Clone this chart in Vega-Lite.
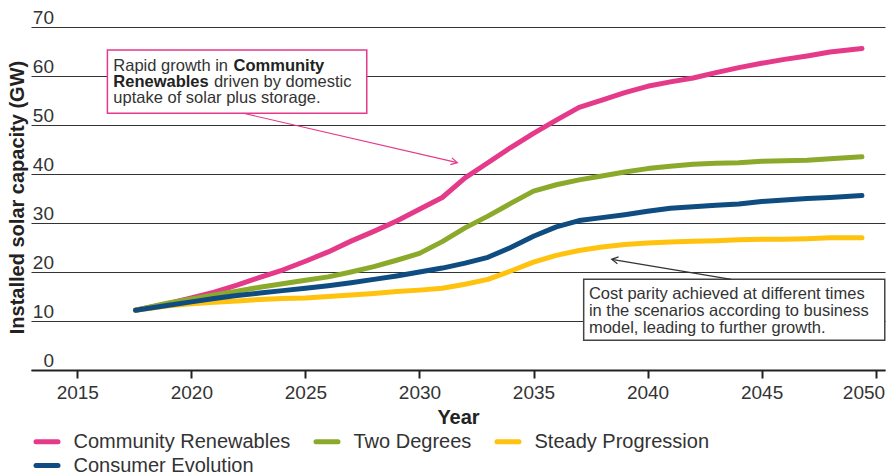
{
  "$schema": "https://vega.github.io/schema/vega-lite/v6.json",
  "width": 854,
  "height": 343,
  "autosize": {"type": "none"},
  "padding": {"left": 31, "top": 27, "right": 8, "bottom": 106},
  "config": {"font": "Liberation Sans", "view": {"stroke": null}},
  "datasets": {
    "series": [
      {"year": 2017.55, "scenario": "Community Renewables", "gw": 12.2},
      {"year": 2019, "scenario": "Community Renewables", "gw": 13.6},
      {"year": 2020, "scenario": "Community Renewables", "gw": 14.7},
      {"year": 2021, "scenario": "Community Renewables", "gw": 15.9},
      {"year": 2022, "scenario": "Community Renewables", "gw": 17.3},
      {"year": 2023, "scenario": "Community Renewables", "gw": 18.9},
      {"year": 2024, "scenario": "Community Renewables", "gw": 20.4},
      {"year": 2025, "scenario": "Community Renewables", "gw": 22.2},
      {"year": 2026, "scenario": "Community Renewables", "gw": 24.1},
      {"year": 2027, "scenario": "Community Renewables", "gw": 26.3},
      {"year": 2028, "scenario": "Community Renewables", "gw": 28.3},
      {"year": 2029, "scenario": "Community Renewables", "gw": 30.4},
      {"year": 2030, "scenario": "Community Renewables", "gw": 32.8},
      {"year": 2031, "scenario": "Community Renewables", "gw": 35.2},
      {"year": 2032, "scenario": "Community Renewables", "gw": 39.2},
      {"year": 2033, "scenario": "Community Renewables", "gw": 42.3},
      {"year": 2034, "scenario": "Community Renewables", "gw": 45.4},
      {"year": 2035, "scenario": "Community Renewables", "gw": 48.3},
      {"year": 2036, "scenario": "Community Renewables", "gw": 51.0},
      {"year": 2037, "scenario": "Community Renewables", "gw": 53.6},
      {"year": 2038, "scenario": "Community Renewables", "gw": 55.1},
      {"year": 2039, "scenario": "Community Renewables", "gw": 56.6},
      {"year": 2040, "scenario": "Community Renewables", "gw": 57.9},
      {"year": 2041, "scenario": "Community Renewables", "gw": 58.8},
      {"year": 2042, "scenario": "Community Renewables", "gw": 59.6},
      {"year": 2043, "scenario": "Community Renewables", "gw": 60.7},
      {"year": 2044, "scenario": "Community Renewables", "gw": 61.7},
      {"year": 2045, "scenario": "Community Renewables", "gw": 62.6},
      {"year": 2046, "scenario": "Community Renewables", "gw": 63.4},
      {"year": 2047, "scenario": "Community Renewables", "gw": 64.1},
      {"year": 2048, "scenario": "Community Renewables", "gw": 64.9},
      {"year": 2049.4, "scenario": "Community Renewables", "gw": 65.6},

      {"year": 2017.55, "scenario": "Two Degrees", "gw": 12.2},
      {"year": 2019, "scenario": "Two Degrees", "gw": 13.7},
      {"year": 2020, "scenario": "Two Degrees", "gw": 14.5},
      {"year": 2021, "scenario": "Two Degrees", "gw": 15.3},
      {"year": 2022, "scenario": "Two Degrees", "gw": 16.1},
      {"year": 2023, "scenario": "Two Degrees", "gw": 16.9},
      {"year": 2024, "scenario": "Two Degrees", "gw": 17.6},
      {"year": 2025, "scenario": "Two Degrees", "gw": 18.3},
      {"year": 2026, "scenario": "Two Degrees", "gw": 19.0},
      {"year": 2027, "scenario": "Two Degrees", "gw": 20.0},
      {"year": 2028, "scenario": "Two Degrees", "gw": 21.1},
      {"year": 2029, "scenario": "Two Degrees", "gw": 22.4},
      {"year": 2030, "scenario": "Two Degrees", "gw": 23.8},
      {"year": 2031, "scenario": "Two Degrees", "gw": 26.2},
      {"year": 2032, "scenario": "Two Degrees", "gw": 29.0},
      {"year": 2033, "scenario": "Two Degrees", "gw": 31.4},
      {"year": 2034, "scenario": "Two Degrees", "gw": 34.0},
      {"year": 2035, "scenario": "Two Degrees", "gw": 36.5},
      {"year": 2036, "scenario": "Two Degrees", "gw": 37.8},
      {"year": 2037, "scenario": "Two Degrees", "gw": 38.8},
      {"year": 2038, "scenario": "Two Degrees", "gw": 39.6},
      {"year": 2039, "scenario": "Two Degrees", "gw": 40.4},
      {"year": 2040, "scenario": "Two Degrees", "gw": 41.1},
      {"year": 2041, "scenario": "Two Degrees", "gw": 41.6},
      {"year": 2042, "scenario": "Two Degrees", "gw": 42.0},
      {"year": 2043, "scenario": "Two Degrees", "gw": 42.2},
      {"year": 2044, "scenario": "Two Degrees", "gw": 42.3},
      {"year": 2045, "scenario": "Two Degrees", "gw": 42.6},
      {"year": 2046, "scenario": "Two Degrees", "gw": 42.7},
      {"year": 2047, "scenario": "Two Degrees", "gw": 42.8},
      {"year": 2048, "scenario": "Two Degrees", "gw": 43.1},
      {"year": 2049.4, "scenario": "Two Degrees", "gw": 43.5},

      {"year": 2017.55, "scenario": "Steady Progression", "gw": 12.2},
      {"year": 2019, "scenario": "Steady Progression", "gw": 13.1},
      {"year": 2020, "scenario": "Steady Progression", "gw": 13.5},
      {"year": 2021, "scenario": "Steady Progression", "gw": 13.8},
      {"year": 2022, "scenario": "Steady Progression", "gw": 14.1},
      {"year": 2023, "scenario": "Steady Progression", "gw": 14.4},
      {"year": 2024, "scenario": "Steady Progression", "gw": 14.6},
      {"year": 2025, "scenario": "Steady Progression", "gw": 14.7},
      {"year": 2026, "scenario": "Steady Progression", "gw": 15.0},
      {"year": 2027, "scenario": "Steady Progression", "gw": 15.3},
      {"year": 2028, "scenario": "Steady Progression", "gw": 15.6},
      {"year": 2029, "scenario": "Steady Progression", "gw": 16.0},
      {"year": 2030, "scenario": "Steady Progression", "gw": 16.3},
      {"year": 2031, "scenario": "Steady Progression", "gw": 16.7},
      {"year": 2032, "scenario": "Steady Progression", "gw": 17.5},
      {"year": 2033, "scenario": "Steady Progression", "gw": 18.5},
      {"year": 2034, "scenario": "Steady Progression", "gw": 20.2},
      {"year": 2035, "scenario": "Steady Progression", "gw": 22.0},
      {"year": 2036, "scenario": "Steady Progression", "gw": 23.4},
      {"year": 2037, "scenario": "Steady Progression", "gw": 24.4},
      {"year": 2038, "scenario": "Steady Progression", "gw": 25.1},
      {"year": 2039, "scenario": "Steady Progression", "gw": 25.6},
      {"year": 2040, "scenario": "Steady Progression", "gw": 25.9},
      {"year": 2041, "scenario": "Steady Progression", "gw": 26.1},
      {"year": 2042, "scenario": "Steady Progression", "gw": 26.3},
      {"year": 2043, "scenario": "Steady Progression", "gw": 26.4},
      {"year": 2044, "scenario": "Steady Progression", "gw": 26.6},
      {"year": 2045, "scenario": "Steady Progression", "gw": 26.7},
      {"year": 2046, "scenario": "Steady Progression", "gw": 26.7},
      {"year": 2047, "scenario": "Steady Progression", "gw": 26.8},
      {"year": 2048, "scenario": "Steady Progression", "gw": 27.0},
      {"year": 2049.4, "scenario": "Steady Progression", "gw": 27.0},

      {"year": 2017.55, "scenario": "Consumer Evolution", "gw": 12.2},
      {"year": 2019, "scenario": "Consumer Evolution", "gw": 13.2},
      {"year": 2020, "scenario": "Consumer Evolution", "gw": 13.9},
      {"year": 2021, "scenario": "Consumer Evolution", "gw": 14.6},
      {"year": 2022, "scenario": "Consumer Evolution", "gw": 15.2},
      {"year": 2023, "scenario": "Consumer Evolution", "gw": 15.7},
      {"year": 2024, "scenario": "Consumer Evolution", "gw": 16.2},
      {"year": 2025, "scenario": "Consumer Evolution", "gw": 16.7},
      {"year": 2026, "scenario": "Consumer Evolution", "gw": 17.2},
      {"year": 2027, "scenario": "Consumer Evolution", "gw": 17.8},
      {"year": 2028, "scenario": "Consumer Evolution", "gw": 18.5},
      {"year": 2029, "scenario": "Consumer Evolution", "gw": 19.2},
      {"year": 2030, "scenario": "Consumer Evolution", "gw": 20.0},
      {"year": 2031, "scenario": "Consumer Evolution", "gw": 20.8},
      {"year": 2032, "scenario": "Consumer Evolution", "gw": 21.8},
      {"year": 2033, "scenario": "Consumer Evolution", "gw": 23.0},
      {"year": 2034, "scenario": "Consumer Evolution", "gw": 25.0},
      {"year": 2035, "scenario": "Consumer Evolution", "gw": 27.3},
      {"year": 2036, "scenario": "Consumer Evolution", "gw": 29.2},
      {"year": 2037, "scenario": "Consumer Evolution", "gw": 30.5},
      {"year": 2038, "scenario": "Consumer Evolution", "gw": 31.1},
      {"year": 2039, "scenario": "Consumer Evolution", "gw": 31.7},
      {"year": 2040, "scenario": "Consumer Evolution", "gw": 32.4},
      {"year": 2041, "scenario": "Consumer Evolution", "gw": 33.0},
      {"year": 2042, "scenario": "Consumer Evolution", "gw": 33.3},
      {"year": 2043, "scenario": "Consumer Evolution", "gw": 33.6},
      {"year": 2044, "scenario": "Consumer Evolution", "gw": 33.9},
      {"year": 2045, "scenario": "Consumer Evolution", "gw": 34.4},
      {"year": 2046, "scenario": "Consumer Evolution", "gw": 34.7},
      {"year": 2047, "scenario": "Consumer Evolution", "gw": 35.0},
      {"year": 2048, "scenario": "Consumer Evolution", "gw": 35.2},
      {"year": 2049.4, "scenario": "Consumer Evolution", "gw": 35.6}
    ],
    "pinkBox": [{"x": 2016.32, "x2": 2027.69, "y": 65.31, "y2": 52.39}],
    "darkBox": [{"x": 2037.2, "x2": 2050.4, "y": 18.51, "y2": 6.06}],
    "pinkArrow": [{"x": 2022.28, "y": 52.39, "x2": 2031.66, "y2": 42.31}],
    "darkArrow": [{"x": 2043.67, "y": 18.51, "x2": 2038.43, "y2": 22.59}],
    "normalText": [
      {"x": 2016.58, "y": 61.02, "text": "Rapid growth in"},
      {"x": 2020.99, "y": 57.69, "text": "driven by domestic"},
      {"x": 2016.58, "y": 54.39, "text": "uptake of solar plus storage."},
      {"x": 2037.43, "y": 14.55, "text": "Cost parity achieved at different times"},
      {"x": 2037.43, "y": 11.02, "text": "in the scenarios according to business"},
      {"x": 2037.43, "y": 7.61, "text": "model, leading to further growth."}
    ],
    "boldText": [
      {"x": 2021.85, "y": 61.02, "text": "Community"},
      {"x": 2016.58, "y": 57.69, "text": "Renewables"}
    ]
  },
  "layer": [
    {
      "data": {"name": "series"},
      "mark": {"type": "line", "strokeWidth": 5, "strokeCap": "round", "strokeJoin": "round"},
      "encoding": {
        "x": {
          "field": "year", "type": "quantitative",
          "scale": {"domain": [2012.97, 2050.41], "nice": false, "zero": false},
          "axis": {
            "values": [2015, 2020, 2025, 2030, 2035, 2040, 2045, 2050],
            "format": "d", "grid": false,
            "domainColor": "#222", "domainWidth": 2,
            "tickColor": "#222", "tickWidth": 2, "tickSize": 8,
            "labelFontSize": 19, "labelColor": "#333", "labelPadding": 5,
            "labelFlush": 12, "labelFlushOffset": 9,
            "title": "Year", "titleFontSize": 20, "titleFontWeight": "bold", "titleColor": "#222",
            "titleY": 53, "titleBaseline": "alphabetic"
          }
        },
        "y": {
          "field": "gw", "type": "quantitative",
          "scale": {"domain": [0, 70], "nice": false},
          "axis": {
            "values": [0, 10, 20, 30, 40, 50, 60, 70],
            "grid": true, "gridColor": "#333", "gridWidth": 1.2,
            "domain": false, "ticks": false, "tickSize": 0,
            "labelAlign": "right", "labelBaseline": "alphabetic",
            "labelPadding": -22.5, "labelOffset": -4, "labelFlush": false,
            "labelFontSize": 19, "labelColor": "#333",
            "title": "Installed solar capacity (GW)", "titleFontSize": 20, "titleFontWeight": "bold",
            "titleColor": "#222", "titleX": -8, "titleY": 170, "titleAngle": -90,
            "titleBaseline": "alphabetic", "titleAlign": "center"
          }
        },
        "color": {
          "field": "scenario", "type": "nominal",
          "scale": {
            "domain": ["Community Renewables", "Two Degrees", "Steady Progression", "Consumer Evolution"],
            "range": ["#E5398A", "#8BAA2B", "#FFC20E", "#0F4C81"]
          },
          "legend": {
            "orient": "none", "legendX": 2.5, "legendY": 401, "padding": 0,
            "direction": "horizontal", "columns": 3, "title": null,
            "symbolType": "stroke", "symbolStrokeWidth": 5, "symbolSize": 484,
            "labelFontSize": 20, "labelColor": "#333", "labelOffset": 13, "labelLimit": 400,
            "columnPadding": 15, "rowPadding": 0,
            "encode": {"symbols": {"update": {"strokeCap": {"value": "round"}}}}
          }
        },
        "order": {"field": "year", "type": "quantitative"}
      }
    },
    {
      "data": {"name": "pinkBox"},
      "mark": {"type": "rect", "fill": "white", "stroke": "#E5398A", "strokeWidth": 1.5},
      "encoding": {
        "x": {"field": "x", "type": "quantitative"},
        "x2": {"field": "x2"},
        "y": {"field": "y", "type": "quantitative"},
        "y2": {"field": "y2"}
      }
    },
    {
      "data": {"name": "darkBox"},
      "mark": {"type": "rect", "fill": "white", "stroke": "#444", "strokeWidth": 1.5},
      "encoding": {
        "x": {"field": "x", "type": "quantitative"},
        "x2": {"field": "x2"},
        "y": {"field": "y", "type": "quantitative"},
        "y2": {"field": "y2"}
      }
    },
    {
      "data": {"name": "pinkArrow"},
      "mark": {"type": "rule", "stroke": "#E5398A", "strokeWidth": 1.2},
      "encoding": {
        "x": {"field": "x", "type": "quantitative"},
        "x2": {"field": "x2"},
        "y": {"field": "y", "type": "quantitative"},
        "y2": {"field": "y2"}
      }
    },
    {
      "data": {"name": "pinkArrow"},
      "mark": {"type": "point", "shape": "M-1,-0.55L0,0L-1,0.55", "filled": false, "stroke": "#E5398A", "strokeWidth": 1.2, "size": 160, "angle": 13, "opacity": 1},
      "encoding": {
        "x": {"field": "x2", "type": "quantitative"},
        "y": {"field": "y2", "type": "quantitative"}
      }
    },
    {
      "data": {"name": "darkArrow"},
      "mark": {"type": "rule", "stroke": "#333", "strokeWidth": 1.2},
      "encoding": {
        "x": {"field": "x", "type": "quantitative"},
        "x2": {"field": "x2"},
        "y": {"field": "y", "type": "quantitative"},
        "y2": {"field": "y2"}
      }
    },
    {
      "data": {"name": "darkArrow"},
      "mark": {"type": "point", "shape": "M-1,-0.55L0,0L-1,0.55", "filled": false, "stroke": "#333", "strokeWidth": 1.2, "size": 160, "angle": 189.5, "opacity": 1},
      "encoding": {
        "x": {"field": "x2", "type": "quantitative"},
        "y": {"field": "y2", "type": "quantitative"}
      }
    },
    {
      "data": {"name": "normalText"},
      "mark": {"type": "text", "align": "left", "baseline": "alphabetic", "fontSize": 16.5, "color": "#333"},
      "encoding": {
        "x": {"field": "x", "type": "quantitative"},
        "y": {"field": "y", "type": "quantitative"},
        "text": {"field": "text"}
      }
    },
    {
      "data": {"name": "boldText"},
      "mark": {"type": "text", "align": "left", "baseline": "alphabetic", "fontSize": 16.5, "fontWeight": "bold", "color": "#222"},
      "encoding": {
        "x": {"field": "x", "type": "quantitative"},
        "y": {"field": "y", "type": "quantitative"},
        "text": {"field": "text"}
      }
    }
  ]
}
